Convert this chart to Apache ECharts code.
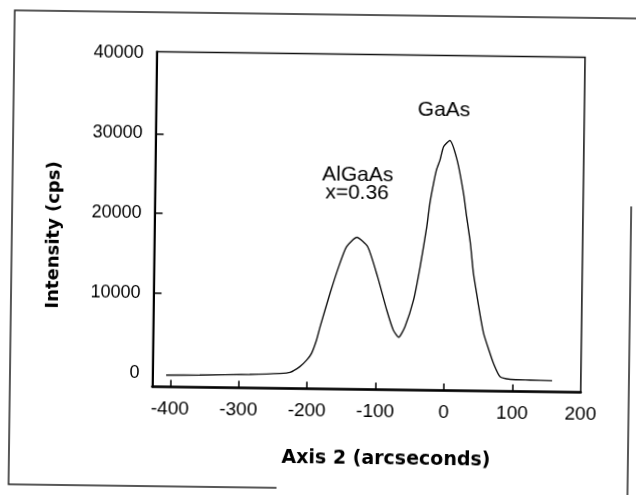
<!DOCTYPE html>
<html>
<head>
<meta charset="utf-8">
<script src="https://cdn.jsdelivr.net/npm/echarts@6/dist/echarts.min.js"></script>
<style>
	html, body { margin: 0; padding: 0; background: #fff; overflow: hidden; }
	#main { width: 636px; height: 495px; transform: rotate(0.75deg); transform-origin: 368.7px 222px; }
</style>
</head>
<body>
<div id="main"></div>
<script>
	// rocking curve
	var arcsec = [-406, -357, -284, -240, -225, -211, -201, -194, -187, -182, -168, -156, -145, -130, -114, -99, -85, -75, -67, -58, -46, -37, -28, -24, -19, -15, -10, -5, 4, 15, 25, 30, 36, 41, 46, 52, 57, 65, 72, 82, 97, 126, 158];
	var cps = [-270, -210, -50, 120, 280, 990, 1840, 2690, 4360, 6040, 10280, 13590, 16110, 17300, 16150, 12400, 8240, 5740, 4840, 6180, 9540, 13730, 18760, 21690, 24200, 25880, 27130, 28810, 29600, 27170, 23000, 20070, 16740, 12990, 10480, 7560, 5480, 3400, 1730, 60, -250, -300, -350];

	var xLabels = [-400, -300, -200, -100, 0, 100, 200];
	var xTicks = [-400, -300, -200, -100, 0, 100];
	var yLabels = [0, 10000, 20000, 30000, 40000];
	var yTicks = [10000, 20000, 30000];

	// peak annotations [x, y, text]
	var notes = [[-5, 33420, 'GaAs'], [-130, 25120, 'AlGaAs'], [-130.5, 22900, 'x=0.36']];

	var curve = arcsec.map(function (x, i) { return [x, cps[i]]; });

	var chart = echarts.init(document.getElementById('main'), null, { renderer: 'canvas' });
	chart.setOption({
		animation: false,
		backgroundColor: '#fff',
		grid: {
			left: 154.5, top: 54.5, width: 428.4, height: 335,
			show: true, borderColor: '#111', borderWidth: 1.5
		},
		xAxis: {
			type: 'value', min: -426, max: 200,
			axisLine: { show: true, onZero: false, lineStyle: { color: '#000', width: 2.5 } },
			axisTick: { show: true, inside: true, length: 7, customValues: xTicks, lineStyle: { color: '#000', width: 1.5 } },
			axisLabel: {
				customValues: xLabels, color: '#000', fontSize: 19, fontFamily: 'Liberation Sans', margin: 13,
				formatter: function (v) { return String(v); }
			},
			splitLine: { show: false }
		},
		yAxis: {
			type: 'value', min: -1750, max: 40250,
			axisLine: { show: true, onZero: false, lineStyle: { color: '#000', width: 2 } },
			axisTick: { show: true, inside: true, length: 8, customValues: yTicks, lineStyle: { color: '#000', width: 1.5 } },
			axisLabel: {
				customValues: yLabels, color: '#000', fontSize: 18, fontFamily: 'Liberation Sans', margin: 13,
				formatter: function (v) { return String(v); }
			},
			splitLine: { show: false }
		},
		series: [{
			type: 'line',
			data: curve,
			smooth: 0.2,
			showSymbol: false,
			lineStyle: { color: '#111', width: 1.4 }
		}, {
			type: 'scatter',
			data: notes,
			symbolSize: 1,
			silent: true,
			itemStyle: { color: '#fff', opacity: 1 },
			label: {
				show: true, position: 'inside', color: '#000', opacity: 1, textBorderWidth: 0, fontSize: 21, fontFamily: 'Liberation Sans',
				formatter: function (p) { return p.data[2]; }
			}
		}],
		graphic: [
			{ type: 'text', x: 389, y: 459, style: { text: 'Axis 2 (arcseconds)', fill: '#000', font: 'bold 19px "DejaVu Sans"', align: 'center', verticalAlign: 'middle' } },
			{ type: 'text', x: 54, y: 239, rotation: Math.PI / 2, style: { text: 'Intensity (cps)', fill: '#000', font: 'bold 18px "DejaVu Sans"', align: 'center', verticalAlign: 'middle' } },
			// scanned page frame
			{ type: 'polyline', shape: { points: [[280, 489], [12, 489], [12, 15], [640, 15]] }, style: { stroke: '#222', lineWidth: 1.5, fill: null } },
			{ type: 'line', shape: { x1: 631, y1: 203, x2: 631, y2: 500 }, style: { stroke: '#222', lineWidth: 1.5 } }
		]
	});
</script>
</body>
</html>
